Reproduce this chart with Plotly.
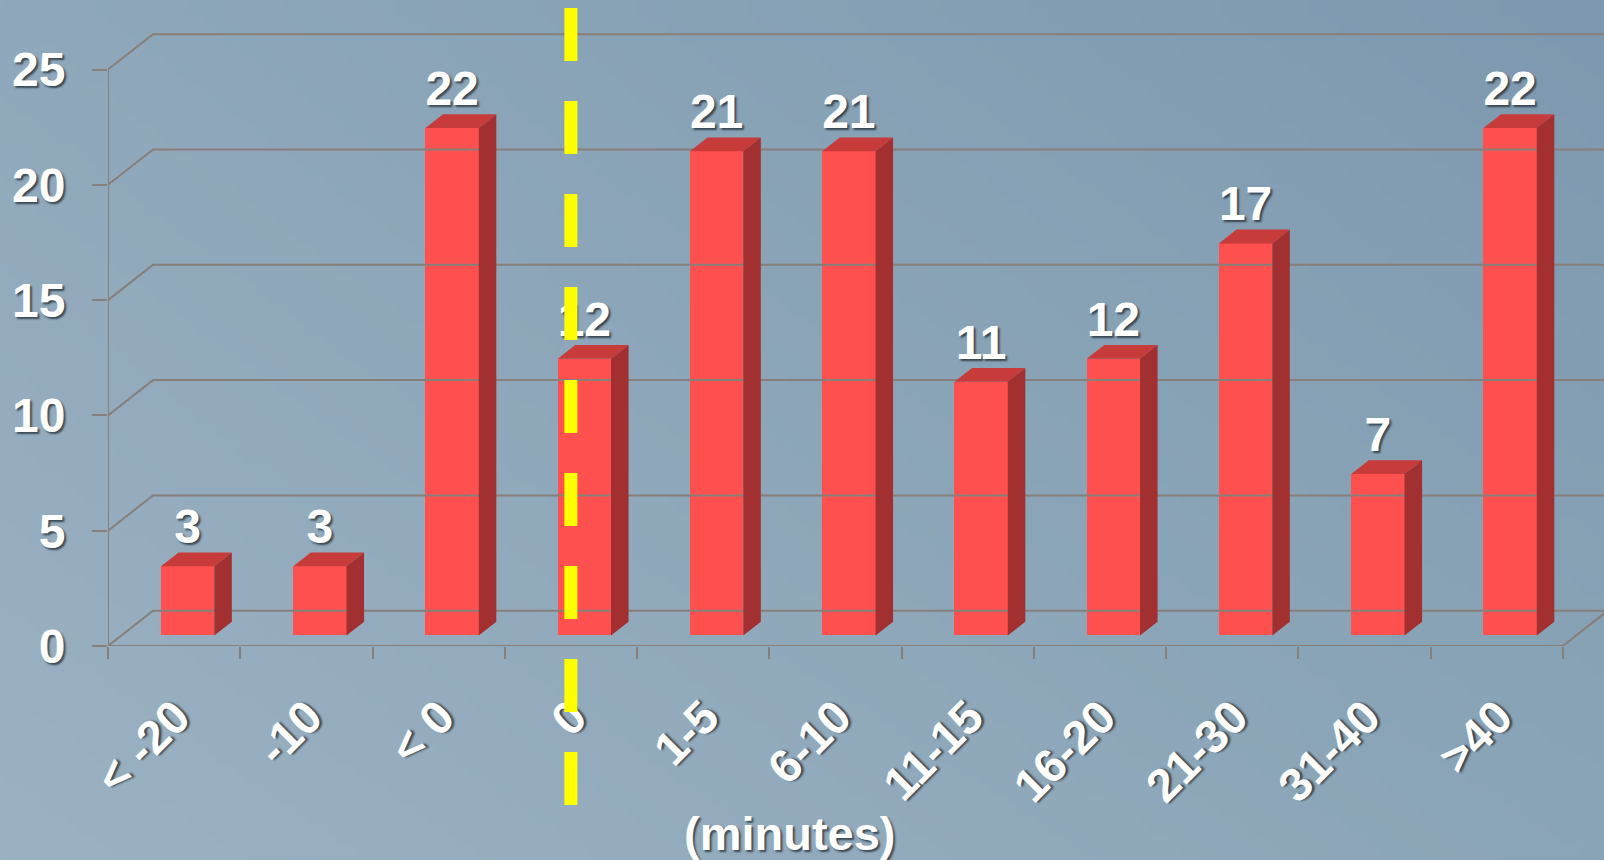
import base64, struct, zlib
import numpy as np
import plotly.graph_objects as go

# ---------------- data ----------------
categories = ["< -20", "-10", "< 0", "0", "1-5", "6-10", "11-15", "16-20", "21-30", "31-40", ">40"]
counts = [3, 3, 22, 12, 21, 21, 11, 12, 17, 7, 22]
y_ticks = [0, 5, 10, 15, 20, 25]
x_title = "(minutes)"
marker_category = "0"

# ---------------- geometry / style ----------------
W, H = 1604, 860
ML, MB = 108, 214
plot_w, plot_h = W - ML, H - MB
PX_X, PX_Y = 132.25, 23.06           # pixels per category, per count
XR = [-0.5, -0.5 + plot_w / PX_X]
YR = [0, plot_h / PX_Y]
DDX, DDY = 45 / PX_X, 35.3 / PX_Y    # depth offset of back wall (data units)
F0, F1 = 0.30, 0.69                  # bar front / back depth fractions
BW = 0.403                           # bar width (categories)

FRONT, TOP, SIDE = "#ff5050", "#c73b3b", "#a33030"
GRID = "#877f79"
FONT = "Liberation Sans, Arial, sans-serif"
SHADOW = "2px 2px 2px rgba(30,40,50,0.75)"


# ---------------- background gradient (png) ----------------
def make_png(arr):
    h, w, _ = arr.shape
    raw = b"".join(b"\x00" + arr[r].astype(np.uint8).tobytes() for r in range(h))

    def chunk(t, d):
        c = struct.pack(">I", len(d)) + t + d
        return c + struct.pack(">I", zlib.crc32(t + d) & 0xFFFFFFFF)

    return (b"\x89PNG\r\n\x1a\n" + chunk(b"IHDR", struct.pack(">IIBBBBB", w, h, 8, 2, 0, 0, 0))
            + chunk(b"IDAT", zlib.compress(raw, 9)) + chunk(b"IEND", b""))


gw, gh = 160, 86
u = np.linspace(0, 1, gw)[None, :, None]
v = np.linspace(0, 1, gh)[:, None, None]
tl, tr = np.array([0x8f, 0xa8, 0xbb]), np.array([0x7e, 0x99, 0xaf])
bl, br = np.array([0x9b, 0xb2, 0xc2]), np.array([0x8b, 0xa5, 0xb8])
grad = (1 - v) * ((1 - u) * tl + u * tr) + v * ((1 - u) * bl + u * br)
bg_uri = "data:image/png;base64," + base64.b64encode(make_png(np.clip(grad, 0, 255))).decode()

fig = go.Figure()

# ---------------- walls / grid ----------------
gx, gy = [], []
x_left, x_right = XR[0], XR[0] + len(categories)
for t in y_ticks:
    gx += [x_left, x_left + DDX, x_right + DDX, None]
    gy += [t, t + DDY, t + DDY, None]
gx += [x_left, x_left, None, x_left, x_right, x_right + DDX, None]
gy += [y_ticks[0], y_ticks[-1], None, 0, 0, DDY, None]
fig.add_trace(go.Scatter(x=gx, y=gy, xaxis="x2", mode="lines",
                         line=dict(color=GRID, width=2), hoverinfo="skip", showlegend=False))

# ---------------- bars: front faces ----------------
fig.add_trace(go.Bar(x=categories, y=counts, base=F0 * DDY, width=BW, offset=F0 * DDX - BW / 2,
                     marker=dict(color=FRONT, line=dict(width=0)), showlegend=False))

# ---------------- bars: top and side faces ----------------
tx, ty, sx, sy = [], [], [], []
d_x, d_y0, d_y1 = (F1 - F0) * DDX, F0 * DDY, F1 * DDY
for i, c in enumerate(counts):
    xl = i + F0 * DDX - BW / 2
    xr = xl + BW
    tx += [xl, xr, xr + d_x, xl + d_x, xl, None]
    ty += [c + d_y0, c + d_y0, c + d_y1, c + d_y1, c + d_y0, None]
    sx += [xr, xr + d_x, xr + d_x, xr, xr, None]
    sy += [d_y0, d_y1, c + d_y1, c + d_y0, d_y0, None]
fig.add_trace(go.Scatter(x=tx, y=ty, xaxis="x2", mode="lines", fill="toself", fillcolor=TOP,
                         line=dict(width=0, color=TOP), hoverinfo="skip", showlegend=False))
fig.add_trace(go.Scatter(x=sx, y=sy, xaxis="x2", mode="lines", fill="toself", fillcolor=SIDE,
                         line=dict(width=0, color=SIDE), hoverinfo="skip", showlegend=False))

# ---------------- value labels ----------------
fig.add_trace(go.Scatter(
    x=[i + F0 * DDX for i in range(len(counts))], y=[c + F1 * DDY - 0.12 for c in counts],
    xaxis="x2", mode="text", text=[str(c) for c in counts], textposition="top center",
    textfont=dict(family=FONT, size=48, color="white", weight="bold", shadow=SHADOW),
    cliponaxis=False, hoverinfo="skip", showlegend=False))

# ---------------- dashed marker line ----------------
mx = categories.index(marker_category)
fig.add_shape(type="line", xref="x2", yref="paper", x0=mx, x1=mx,
              y0=(plot_h - 8) / plot_h, y1=(plot_h - 806) / plot_h,
              line=dict(color="#ffff00", width=13, dash="53px,40px"), layer="above")

fig.add_annotation(text=x_title, xref="paper", yref="paper",
                   x=(789.5 - ML) / plot_w, y=(plot_h - 833) / plot_h,
                   xanchor="center", yanchor="middle", showarrow=False,
                   font=dict(family=FONT, size=47, color="white", weight="bold", shadow=SHADOW))

fig.add_layout_image(dict(source=bg_uri, xref="paper", yref="paper",
                          x=-ML / plot_w, y=1, sizex=W / plot_w, sizey=H / plot_h,
                          xanchor="left", yanchor="top", sizing="stretch", layer="below"))

fig.update_layout(
    width=W, height=H,
    margin=dict(l=ML, r=0, t=0, b=MB, pad=0),
    paper_bgcolor="#8ea7ba", plot_bgcolor="rgba(0,0,0,0)",
    bargap=0, showlegend=False,
    xaxis=dict(type="category", range=XR, tickson="boundaries", ticks="outside", ticklen=12,
               tickwidth=2, tickcolor=GRID, showgrid=False, zeroline=False, showline=False,
               tickangle=-45, fixedrange=True, ticklabelstandoff=33, ticklabelshift=2,
               tickfont=dict(family=FONT, size=47, color="white", weight="bold", shadow=SHADOW)),
    xaxis2=dict(overlaying="x", range=XR, visible=False, fixedrange=True),
    yaxis=dict(range=YR, tickmode="array", tickvals=y_ticks, ticks="outside", ticklen=15,
               tickwidth=2, tickcolor=GRID, showgrid=False, zeroline=False, showline=False,
               fixedrange=True, ticklabelstandoff=17,
               tickfont=dict(family=FONT, size=48, color="white", weight="bold", shadow=SHADOW)),
)

fig.write_html("out.html", config={"displayModeBar": False}, post_script=(
    "document.body.style.margin='0';document.body.style.padding='0';"
    "document.body.style.overflow='hidden';document.documentElement.style.overflow='hidden';"))
